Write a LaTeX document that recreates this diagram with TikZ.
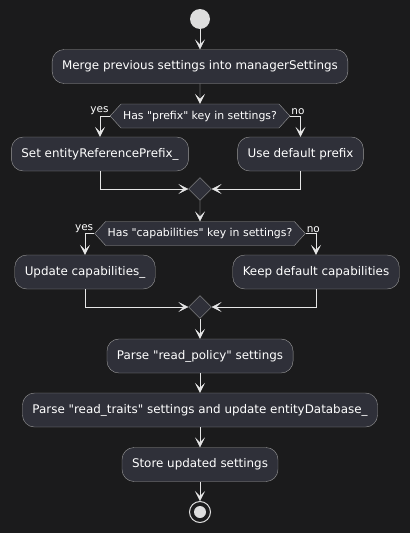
\documentclass[tikz,border=0pt]{standalone}
\usepackage{fontspec}
\setmainfont{DejaVu Sans}
\usetikzlibrary{arrows.meta,shapes.geometric,shapes.symbols}
\definecolor{bg}{HTML}{1B1B1C}
\definecolor{boxfill}{HTML}{2F3039}
\definecolor{boxline}{HTML}{9A9A9A}
\definecolor{flowline}{HTML}{E6E6E6}
\definecolor{dot}{HTML}{DDDDDD}

\begin{document}
\begin{tikzpicture}[x=1pt, y=-1pt,
	action/.style={draw=boxline, fill=boxfill, rounded corners=12pt, minimum height=34pt, inner xsep=10pt, text=white, font=\fontsize{11.9}{14}\selectfont},
	choice/.style={signal, signal to=west and east, signal pointer angle=95, draw=boxline, fill=boxfill, minimum height=24pt, inner xsep=2pt, inner ysep=0pt, text=white, font=\fontsize{10.9}{13}\selectfont},
	merger/.style={diamond, draw=boxline, fill=boxfill, minimum size=23pt, inner sep=0pt},
	flowarrow/.style={draw=flowline, -{Stealth[length=10pt, width=10pt, inset=5pt]}},
	guard/.style={text=white, inner sep=1pt, font=\fontsize{10.5}{12}\selectfont}]
	\fill[bg] (0,0) rectangle (410,533);

	\node[circle, fill=dot, minimum size=20pt, inner sep=0pt] (start) at (200,19) {};
	\node[action] (merge) at (200,66.5) {Merge previous settings into managerSettings};

	\node[choice] (ifprefix) at (200,116) {Has \textquotedbl prefix\textquotedbl{} key in settings?};
	\node[action] (setprefix) at (100,154) {Set entityReferencePrefix\_};
	\node[action] (defprefix) at (300.5,154) {Use default prefix};
	\node[merger] (joinprefix) at (200,189) {};

	\node[choice] (ifcap) at (200,233.5) {Has \textquotedbl capabilities\textquotedbl{} key in settings?};
	\node[action] (updcap) at (85,272) {Update capabilities\_};
	\node[action] (keepcap) at (316,272) {Keep default capabilities};
	\node[merger] (joincap) at (200,307) {};

	\node[action] (policy) at (200,356) {Parse \textquotedbl read\_policy\textquotedbl{} settings};
	\node[action] (traits) at (200,410) {Parse \textquotedbl read\_traits\textquotedbl{} settings and update entityDatabase\_};
	\node[action] (store) at (200,464.5) {Store updated settings};

	\node[circle, draw=dot, line width=1pt, minimum size=21pt, inner sep=0pt] (stop) at (200,512) {};
	\node[circle, fill=dot, minimum size=12pt, inner sep=0pt] (stopdot) at (stop) {};

	\draw[flowarrow] (start) -- (merge);
	\draw[flowarrow] (merge) -- (ifprefix);
	\draw[flowarrow] (ifprefix.west) -| (setprefix.north);
	\draw[flowarrow] (ifprefix.east) -| (defprefix.north);
	\node[guard, anchor=south east] (yesprefix) at (ifprefix.west) {yes};
	\node[guard, anchor=south west] (noprefix) at (ifprefix.east) {no};
	\draw[flowarrow] (setprefix.south) |- (joinprefix.west);
	\draw[flowarrow] (defprefix.south) |- (joinprefix.east);

	\draw[flowarrow] (joinprefix) -- (ifcap);
	\draw[flowarrow] (ifcap.west) -| (updcap.north);
	\draw[flowarrow] (ifcap.east) -| (keepcap.north);
	\node[guard, anchor=south east] (yescap) at (ifcap.west) {yes};
	\node[guard, anchor=south west] (nocap) at (ifcap.east) {no};
	\draw[flowarrow] (updcap.south) |- (joincap.west);
	\draw[flowarrow] (keepcap.south) |- (joincap.east);

	\draw[flowarrow] (joincap) -- (policy);
	\draw[flowarrow] (policy) -- (traits);
	\draw[flowarrow] (traits) -- (store);
	\draw[flowarrow] (store) -- (stop);
\end{tikzpicture}
\end{document}
